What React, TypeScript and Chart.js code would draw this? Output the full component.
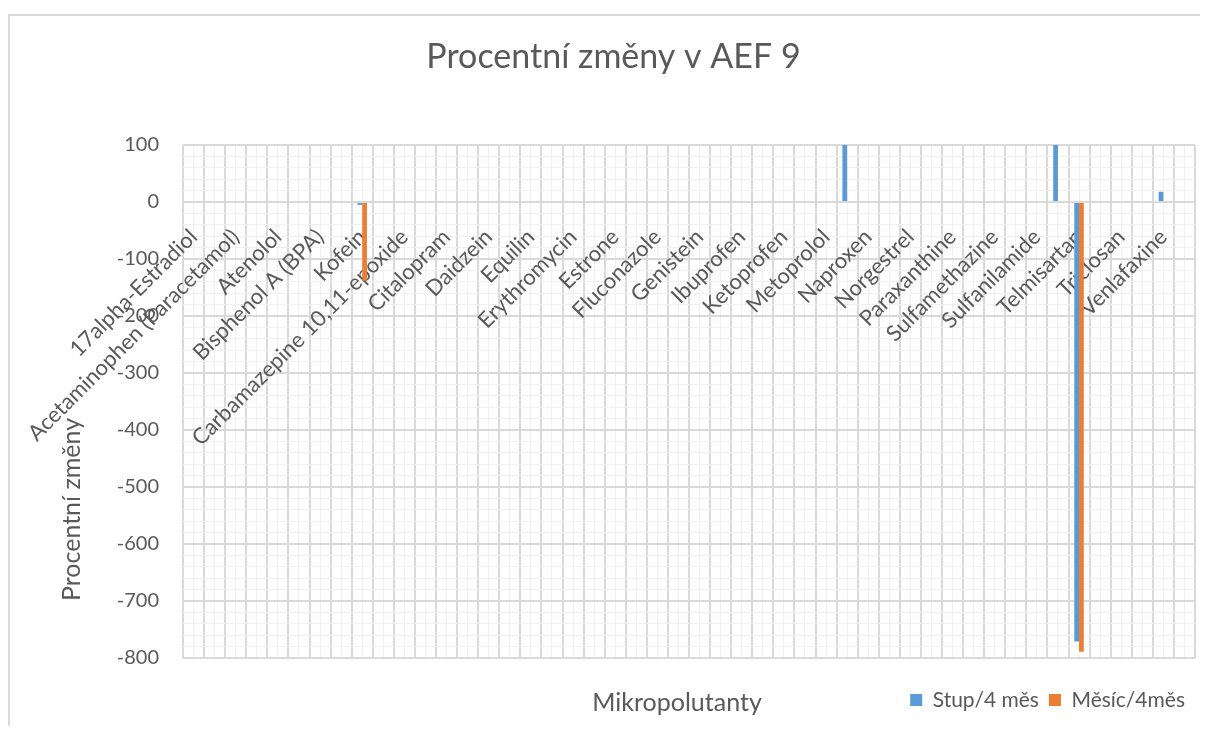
import React, { useEffect, useRef } from 'react';
import { Chart, registerables } from 'chart.js';

Chart.register(...registerables);

const FONT = 'Lato, "Open Sans", sans-serif';
const TEXT_COLOR = '#595959';

const chartTitle = 'Procentní změny v AEF 9';
const xAxisTitle = 'Mikropolutanty';
const yAxisTitle = 'Procentní změny';
const seriesNames = ['Stup/4 měs', 'Měsíc/4měs'];
const seriesColors = ['#5b9bd5', '#ed7d31'];

// 48 categories; the axis only prints every second one (as in the original)
const categories = [
  '17alpha-Estradiol', '17beta-Estradiol',
  'Acetaminophen (Paracetamol)', 'Androstenedione',
  'Atenolol', 'Azithromycin',
  'Bisphenol A (BPA)', 'Bisphenol S (BPS)',
  'Kofein', 'Carbamazepine',
  'Carbamazepine 10,11-epoxide', 'Ciprofloxacin',
  'Citalopram', 'Clarithromycin',
  'Daidzein', 'Diclofenac',
  'Equilin', 'Equol',
  'Erythromycin', 'Estriol',
  'Estrone', 'Ethinylestradiol',
  'Fluconazole', 'Gemfibrozil',
  'Genistein', 'Hydrochlorothiazide',
  'Ibuprofen', 'Irbesartan',
  'Ketoprofen', 'Losartan',
  'Metoprolol', 'Metronidazole',
  'Naproxen', 'Norethindrone',
  'Norgestrel', 'Oxazepam',
  'Paraxanthine', 'Progesterone',
  'Sulfamethazine', 'Sulfamethoxazole',
  'Sulfanilamide', 'Sulfapyridine',
  'Telmisartan', 'Testosterone',
  'Triclosan', 'Trimethoprim',
  'Venlafaxine', 'Zearalenone',
];

const stupValues: (number | null)[] = [
  null, null, null, null, null, null, null, null,
  -5, null, null, null, null, null, null, null,
  null, null, null, null, null, null, null, null,
  null, null, null, null, null, null, null, 100,
  null, null, null, null, null, null, null, null,
  null, 100, -771, null, null, null, 18, null,
];

const mesicValues: (number | null)[] = [
  null, null, null, null, null, null, null, null,
  -138, null, null, null, null, null, null, null,
  null, null, null, null, null, null, null, null,
  null, null, null, null, null, null, null, null,
  null, null, null, null, null, null, null, null,
  null, null, -789, null, null, null, null, null,
];

const yMin = -800;
const yMax = 100;
const yMajorStep = 100;
const yMinorStep = 20;

const axisTitlesPlugin = {
  id: 'axisTitles',
  afterDraw(chart: any) {
    const { ctx, chartArea } = chart;
    ctx.save();
    ctx.fillStyle = TEXT_COLOR;
    ctx.font = `25px ${FONT}`;
    ctx.textAlign = 'center';
    ctx.textBaseline = 'middle';
    ctx.fillText(xAxisTitle, (chartArea.left + chartArea.right) / 2 - 12, chartArea.bottom + 45);
    ctx.translate(chartArea.left - 111, (chartArea.top + chartArea.bottom) / 2 + 108);
    ctx.rotate(-Math.PI / 2);
    ctx.fillText(yAxisTitle, 0, 0);
    ctx.restore();
  },
};

export default function App() {
  const canvasRef = useRef<HTMLCanvasElement | null>(null);

  useEffect(() => {
    if (!canvasRef.current) return;
    Chart.defaults.font.family = FONT;
    Chart.defaults.color = TEXT_COLOR;
    const chart = new Chart(canvasRef.current, {
      type: 'bar',
      data: {
        labels: categories,
        datasets: [
          {
            label: seriesNames[0],
            data: stupValues,
            backgroundColor: seriesColors[0],
            borderWidth: 0,
            categoryPercentage: 0.45,
            barPercentage: 1.0,
          },
          {
            label: seriesNames[1],
            data: mesicValues,
            backgroundColor: seriesColors[1],
            borderWidth: 0,
            categoryPercentage: 0.45,
            barPercentage: 1.0,
          },
        ],
      },
      options: {
        animation: false,
        responsive: false,
        layout: { padding: { left: 22, right: 5, top: 0, bottom: 5.5 } },
        plugins: {
          title: {
            display: true,
            text: chartTitle,
            color: TEXT_COLOR,
            font: { size: 34, weight: 'normal', family: FONT },
            padding: { top: 21, bottom: 67.2 },
          },
          legend: {
            position: 'bottom',
            align: 'end',
            labels: {
              boxWidth: 12,
              boxHeight: 12,
              padding: 10,
              color: TEXT_COLOR,
              font: { size: 21, family: FONT },
            },
          },
          tooltip: { enabled: false },
        },
        scales: {
          x: {
            type: 'category',
            position: { y: 0 } as any,
            offset: true,
            grid: { offset: true, color: '#d9d9d9', lineWidth: 2, drawTicks: false },
            border: { display: false },
            ticks: {
              autoSkip: false,
              minRotation: 45,
              maxRotation: 45,
              padding: 22,
              color: TEXT_COLOR,
              font: { size: 22, family: FONT },
              callback: function (this: any, value: any, index: number) {
                return index % 2 === 0 ? this.getLabelForValue(value) : '';
              },
            },
            afterFit: (scale: any) => {
              scale.paddingLeft = 0;
              scale.paddingRight = 0;
            },
          } as any,
          xMinor: {
            type: 'category',
            axis: 'x',
            position: 'bottom',
            offset: true,
            grid: { offset: false, color: '#f0f0f0', lineWidth: 1, drawTicks: false },
            border: { display: false },
            ticks: { display: false },
            afterFit: (scale: any) => {
              scale.height = 21.5;
              scale.paddingLeft = 0;
              scale.paddingRight = 0;
            },
          } as any,
          y: {
            type: 'linear',
            min: yMin,
            max: yMax,
            grid: {
              drawTicks: false,
              color: (c: any) => (c.tick && c.tick.value % yMajorStep === 0 ? '#d9d9d9' : '#f0f0f0'),
              lineWidth: (c: any) => (c.tick && c.tick.value % yMajorStep === 0 ? 2 : 1),
            },
            border: { display: false },
            ticks: {
              stepSize: yMinorStep,
              autoSkip: false,
              padding: 24,
              color: TEXT_COLOR,
              font: { size: 20, family: FONT },
              callback: (v: any) => (Number(v) % yMajorStep === 0 ? String(v) : ''),
            },
            afterFit: (scale: any) => {
              scale.width = 151;
            },
          },
        },
      },
      plugins: [axisTitlesPlugin],
    });
    return () => chart.destroy();
  }, []);

  return (
    <div style={{ paddingTop: 6 }}>
      <div
        style={{
          borderTop: '2px solid #d9d9d9',
          borderLeft: '2px solid #d9d9d9',
          width: 1190,
          height: 710,
          background: '#ffffff',
        }}
      >
        <canvas ref={canvasRef} width={1190} height={710} style={{ display: 'block' }} />
      </div>
    </div>
  );
}
